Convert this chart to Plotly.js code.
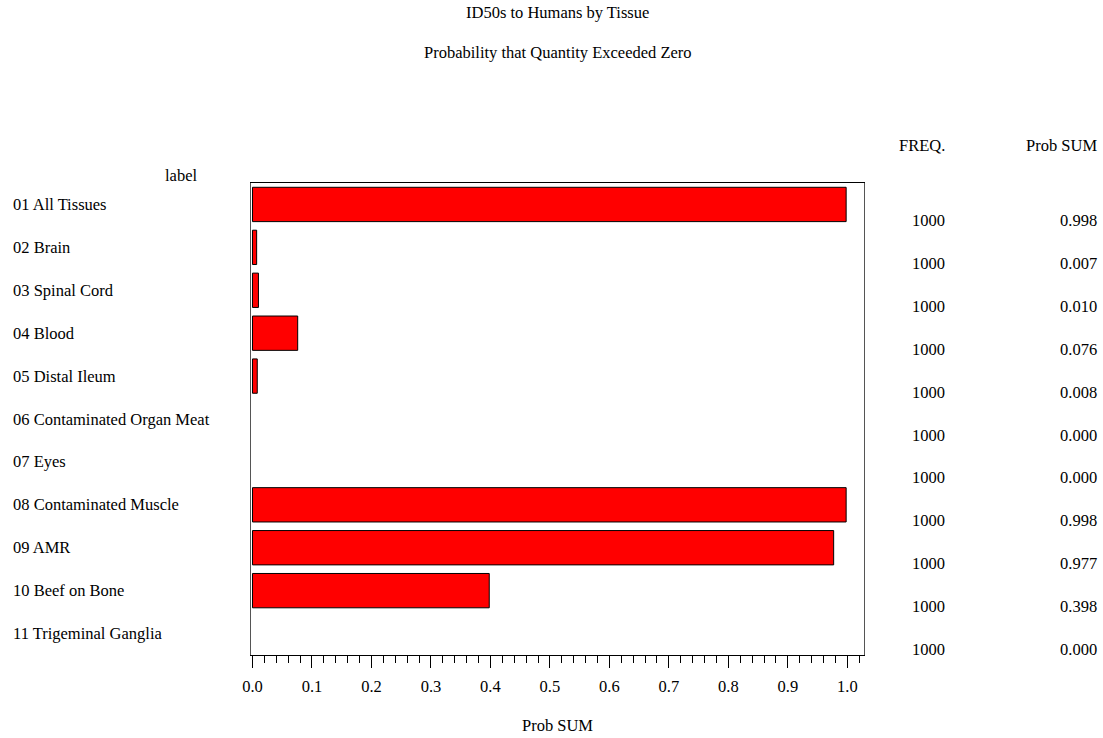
<!DOCTYPE html>
<html>
<head>
<meta charset="utf-8">
<script src="https://cdn.plot.ly/plotly-3.0.1.min.js"></script>
<style>html,body{margin:0;padding:0;background:#fff;}#chart{width:1103px;height:738px;}</style>
</head>
<body>
<div id="chart"></div>
<script>
const categories = ["01 All Tissues","02 Brain","03 Spinal Cord","04 Blood","05 Distal Ileum","06 Contaminated Organ Meat","07 Eyes","08 Contaminated Muscle","09 AMR","10 Beef on Bone","11 Trigeminal Ganglia"];
const probSum = [0.998,0.007,0.010,0.076,0.008,0.000,0.000,0.998,0.977,0.398,0.000];
const freq = [1000,1000,1000,1000,1000,1000,1000,1000,1000,1000,1000];
const xTickVals = [0,0.1,0.2,0.3,0.4,0.5,0.6,0.7,0.8,0.9,1.0];
const xTickText = ["0.0","0.1","0.2","0.3","0.4","0.5","0.6","0.7","0.8","0.9","1.0"];

const FONT = "Liberation Serif, Times New Roman, serif";
const FS = 16.5;

const trace = {
  type: "bar",
  orientation: "h",
  x: probSum,
  y: categories,
  width: 0.8,
  marker: {color: "#ff0000", line: {color: "#000000", width: probSum.map(v => v > 0 ? 1 : 0)}},
  hoverinfo: "x+y"
};

const annotations = [];
categories.forEach((c, i) => {
  annotations.push({xref: "paper", yref: "y", x: -0.391, y: c, text: c, showarrow: false,
    xanchor: "left", yanchor: "middle", font: {family: FONT, size: FS, color: "#000"}});
  annotations.push({xref: "paper", yref: "y", x: 1.1354, y: c, yshift: -16, text: String(freq[i]), showarrow: false,
    xanchor: "right", yanchor: "middle", font: {family: FONT, size: FS, color: "#000"}});
  annotations.push({xref: "paper", yref: "y", x: 1.3834, y: c, yshift: -16, text: probSum[i].toFixed(3), showarrow: false,
    xanchor: "right", yanchor: "middle", font: {family: FONT, size: FS, color: "#000"}});
});
annotations.push({xref: "paper", yref: "paper", x: 1.1354, y: 1.0, yshift: 38, text: "FREQ.", showarrow: false,
  xanchor: "right", yanchor: "middle", font: {family: FONT, size: FS, color: "#000"}});
annotations.push({xref: "paper", yref: "paper", x: 1.3834, y: 1.0, yshift: 38, text: "Prob SUM", showarrow: false,
  xanchor: "right", yanchor: "middle", font: {family: FONT, size: FS, color: "#000"}});
annotations.push({xref: "paper", yref: "paper", x: -0.114, y: 1.0, yshift: 8, text: "label", showarrow: false,
  xanchor: "center", yanchor: "middle", font: {family: FONT, size: FS, color: "#000"}});
annotations.push({xref: "paper", yref: "paper", x: 0.5, y: 1.0, yshift: 171, text: "ID50s to Humans by Tissue", showarrow: false,
  xanchor: "center", yanchor: "middle", font: {family: FONT, size: FS, color: "#000"}});
annotations.push({xref: "paper", yref: "paper", x: 0.5, y: 1.0, yshift: 131, text: "Probability that Quantity Exceeded Zero", showarrow: false,
  xanchor: "center", yanchor: "middle", font: {family: FONT, size: FS, color: "#000"}});

const layout = {
  width: 1103, height: 738,
  margin: {l: 251, r: 239, t: 183, b: 83},
  paper_bgcolor: "#fff", plot_bgcolor: "#fff",
  showlegend: false,
  font: {family: FONT, size: FS, color: "#000"},
  xaxis: {
    range: [-0.0025, 1.028],
    tickvals: xTickVals, ticktext: xTickText,
    ticks: "outside", ticklen: 12, tickwidth: 1, tickcolor: "#000",
    ticklabelstandoff: 4,
    minor: {dtick: 0.02, tick0: 0, ticks: "outside", ticklen: 7, tickwidth: 1, tickcolor: "#000", showgrid: false},
    showgrid: false, zeroline: false,
    showline: true, linecolor: "#000", linewidth: 1, mirror: true,
    tickfont: {family: FONT, size: FS, color: "#000"},
    title: {text: "Prob SUM", font: {family: FONT, size: FS, color: "#000"}, standoff: 24}
  },
  yaxis: {
    type: "category",
    categoryorder: "array", categoryarray: categories,
    range: [10.5, -0.5],
    showticklabels: false, ticks: "",
    showgrid: false, zeroline: false,
    showline: true, linecolor: "#555", linewidth: 1, mirror: true
  },
  annotations: annotations
};

Plotly.newPlot("chart", [trace], layout, {displayModeBar: false, staticPlot: true});
</script>
</body>
</html>
